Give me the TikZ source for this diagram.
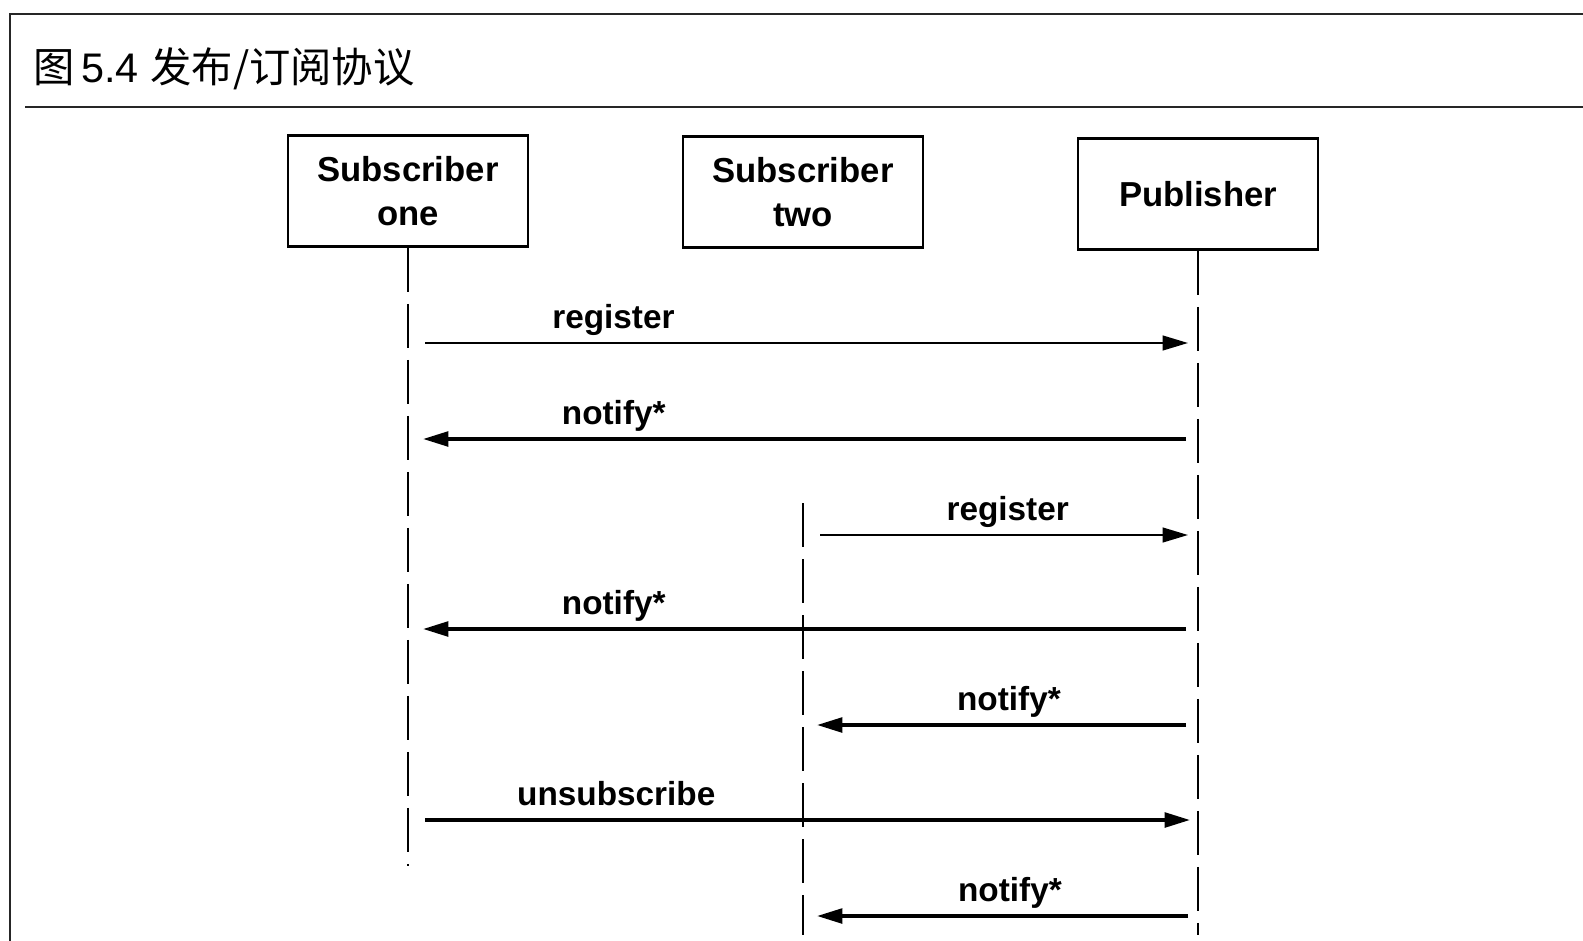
\documentclass[tikz,border=0pt]{standalone}
\usepackage{fontspec}
\setmainfont{Liberation Sans}
\newfontfamily\cjk{Noto Sans CJK SC}
\usetikzlibrary{arrows.meta}
\begin{document}
\begin{tikzpicture}[x=0.75pt,y=-0.75pt,
  actor/.style={draw,line width=2.2pt,minimum width=180pt,minimum height=83pt,align=center,
    font=\fontsize{26}{33}\selectfont\bfseries,inner sep=0pt},
  life/.style={line width=1.6pt,dash pattern=on 33pt off 9pt},
  msg/.style={line width=2.6pt,-{Triangle[length=19pt,width=11pt]}},
  thinmsg/.style={msg,line width=1.6pt},
  lbl/.style={font=\fontsize{25}{30}\selectfont\bfseries,anchor=base,yshift=11pt},
  frame/.style={line width=1.5pt,black!85}]
\useasboundingbox (0,0) rectangle (1583,941);
% frame
\coordinate (ftl) at (10,14);
\coordinate (ftr) at (1583,14);
\coordinate (fbl) at (10,941);
\coordinate (tl) at (25,107);
\coordinate (tr) at (1583,107);
\draw[frame] (fbl) -- (ftl) -- (ftr);
\draw[frame] (tl) -- (tr);
\node[anchor=west,inner sep=0pt,font=\fontsize{31}{36}\selectfont] (title) at (33,69)
  {{\cjk 图}\,5.4\ {\cjk 发布/订阅协议}};
% actors
\node[actor] (s1) at (408,191) {Subscriber\\one};
\node[actor] (s2) at (803,192) {Subscriber\\two};
\node[actor] (pub) at (1198,194) {Publisher};
% lifelines
\coordinate (e1) at (408,866);
\coordinate (st2) at (803,503);
\coordinate (e2) at (803,935);
\coordinate (e3) at (1198,935);
\draw[life] (s1.south) -- (e1);
\draw[life] (st2) -- (e2);
\draw[life] (pub.south) -- (e3);
% message anchors
\coordinate (a1) at (425,343);  \coordinate (b1) at (1188,343);
\coordinate (a2) at (1186,439); \coordinate (b2) at (423,439);
\coordinate (a3) at (820,535);  \coordinate (b3) at (1188,535);
\coordinate (a4) at (1186,629); \coordinate (b4) at (423,629);
\coordinate (a5) at (1186,725); \coordinate (b5) at (817,725);
\coordinate (a6) at (425,820);  \coordinate (b6) at (1190,820);
\coordinate (a7) at (1188,916); \coordinate (b7) at (817,916);
\draw[thinmsg] (a1) -- node[lbl,pos=0.247] (m1) {register} (b1);
\draw[msg] (a2) -- node[lbl,pos=0.75] (m2) {notify*} (b2);
\draw[thinmsg] (a3) -- node[lbl,pos=0.51] (m3) {register} (b3);
\draw[msg] (a4) -- node[lbl,pos=0.75] (m4) {notify*} (b4);
\draw[msg] (a5) -- node[lbl,pos=0.48] (m5) {notify*} (b5);
\draw[msg] (a6) -- node[lbl,pos=0.25] (m6) {unsubscribe} (b6);
\draw[msg] (a7) -- node[lbl,pos=0.48] (m7) {notify*} (b7);
\end{tikzpicture}
\end{document}
